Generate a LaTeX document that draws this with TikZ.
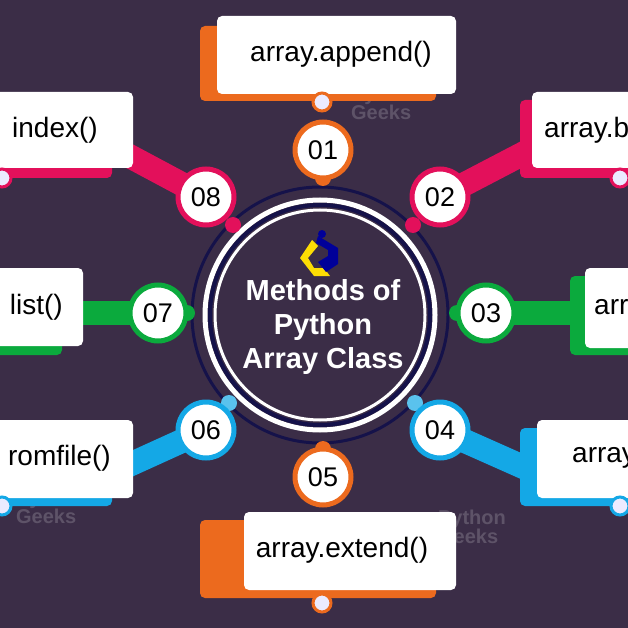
\documentclass[tikz,border=0pt]{standalone}
\usepackage{fontspec}
\setmainfont{Liberation Sans}
\begin{document}
\begin{tikzpicture}[x=1pt,y=-1pt,
  box/.style={fill=white,rounded corners=5pt},
  num/.style={circle,draw=#1,line width=5pt,fill=white,minimum size=56pt,inner sep=0pt,font=\fontsize{27}{28}\selectfont},
  lab/.style={font=\fontsize{28}{30}\selectfont,inner sep=0pt},
  band/.style={line width=24pt,#1},
  small/.style={circle,draw=#1,line width=3pt,fill=white!92!blue,minimum size=18pt,inner sep=0pt},
  blob/.style={circle,fill=#1,minimum size=16pt,inner sep=0pt},
  wm/.style={text=white!18!bg,font=\bfseries\fontsize{20}{19}\selectfont,align=left}]
\definecolor{bg}{HTML}{3B2D47}
\definecolor{oc}{HTML}{EC6A1E}
\definecolor{pc}{HTML}{E3105B}
\definecolor{gc}{HTML}{0BAA3D}
\definecolor{bc}{HTML}{14A8E6}
\definecolor{nv}{HTML}{15124A}
\useasboundingbox (0,0) rectangle (628,628);
\fill[bg] (0,0) rectangle (628,628);
\clip (0,0) rectangle (628,628);
% watermarks
\node[wm] (w1) at (385,103) {Python\\Geeks};
\node[wm] (w2) at (50,507) {Python\\Geeks};
\node[wm] (w3) at (472,527) {Python\\Geeks};
% center rings
\coordinate (c) at (320,315);
\draw[nv,line width=3pt] (c) circle (128);
\draw[white,line width=5pt] (c) circle (115);
\draw[nv,line width=4pt] (c) circle (110);
\draw[white,line width=3pt] (c) circle (105);
% number circle positions
\coordinate (p1) at (323,150); \coordinate (p2) at (440,197);
\coordinate (p3) at (486,313); \coordinate (p4) at (440,430);
\coordinate (p5) at (323,477); \coordinate (p6) at (206,430);
\coordinate (p7) at (158,313); \coordinate (p8) at (206,197);
% bands
\coordinate (e2) at (530,150); \coordinate (e8) at (118,150);
\coordinate (e3) at (580,313); \coordinate (e7) at (70,313);
\coordinate (e4) at (530,470); \coordinate (e6) at (118,470);
\draw[band=pc] (p2) -- (e2); \draw[band=pc] (p8) -- (e8);
\draw[band=gc] (p3) -- (e3); \draw[band=gc] (p7) -- (e7);
\draw[band=bc] (p4) -- (e4); \draw[band=bc] (p6) -- (e6);
% shadow boxes
\fill[oc,rounded corners=5pt] (200,26) rectangle (436,101);
\fill[oc,rounded corners=5pt] (200,520) rectangle (436,598);
\fill[pc,rounded corners=5pt] (520,100) rectangle (640,178);
\fill[pc,rounded corners=5pt] (-10,100) rectangle (112,178);
\fill[gc,rounded corners=5pt] (570,276) rectangle (640,355);
\fill[gc,rounded corners=5pt] (-10,276) rectangle (62,355);
\fill[bc,rounded corners=5pt] (520,428) rectangle (640,506);
\fill[bc,rounded corners=5pt] (-10,428) rectangle (112,506);
% white boxes
\fill[box] (217,16) rectangle (456,94);
\fill[box] (244,512) rectangle (456,590);
\fill[box] (532,92) rectangle (650,168);
\fill[box] (-20,92) rectangle (133,168);
\fill[box] (585,268) rectangle (650,348);
\fill[box] (-20,268) rectangle (83,346);
\fill[box] (537,420) rectangle (650,498);
\fill[box] (-20,420) rectangle (133,498);
% labels
\node[lab,anchor=center] (b1) at (341,54) {array.append()};
\node[lab,anchor=center] (b5) at (342,550) {array.extend()};
\node[lab,anchor=west] (b2) at (544,130) {array.b};
\node[lab,anchor=west] (b3) at (594,307) {arr};
\node[lab,anchor=west] (b4) at (572,458) {array};
\node[lab,anchor=east] (b8) at (98,130) {index()};
\node[lab,anchor=east] (b7) at (63,307) {list()};
\node[lab,anchor=east] (b6) at (111,458) {romfile()};
% small connector circles
\node[small=oc] (s1) at (322,102) {};
\node[small=oc] (s5) at (322,603) {};
\node[small=pc] (s2) at (620,178) {};
\node[small=pc] (s8) at (2,178) {};
\node[small=bc] (s4) at (620,506) {};
\node[small=bc] (s6) at (2,506) {};
% blobs
\node[blob=oc] (k1) at (323,178) {};
\node[blob=oc] (k5) at (323,449) {};
\node[blob=pc] (k2) at (413,225) {};
\node[blob=pc] (k8) at (233,225) {};
\node[blob=gc] (k3) at (457,313) {};
\node[blob=gc] (k7) at (187,313) {};
\node[blob=bc!70!white] (k4) at (415,403) {};
\node[blob=bc!70!white] (k6) at (229,403) {};
% number circles
\node[num=oc] (n1) at (p1) {01};
\node[num=pc] (n2) at (p2) {02};
\node[num=gc] (n3) at (p3) {03};
\node[num=bc] (n4) at (p4) {04};
\node[num=oc] (n5) at (p5) {05};
\node[num=bc] (n6) at (p6) {06};
\node[num=gc] (n7) at (p7) {07};
\node[num=pc] (n8) at (p8) {08};
% logo
\fill[yellow!80!orange] (312,240) -- (300,258) -- (314,276) -- (330,276) -- (324,268) -- (314,268) -- (308,258) -- (318,246) -- cycle;
\fill[blue!60!black] (318,236) -- (338,248) -- (338,264) -- (326,272) -- (318,262) -- (328,256) -- (328,250) -- (316,243) -- cycle;
\fill[blue!60!black] (322,234) circle (4);
% title
\node[text=white,font=\bfseries\fontsize{29}{34}\selectfont,align=center] (t) at (323,327) {Methods of\\Python\\Array Class};
\end{tikzpicture}
\end{document}
